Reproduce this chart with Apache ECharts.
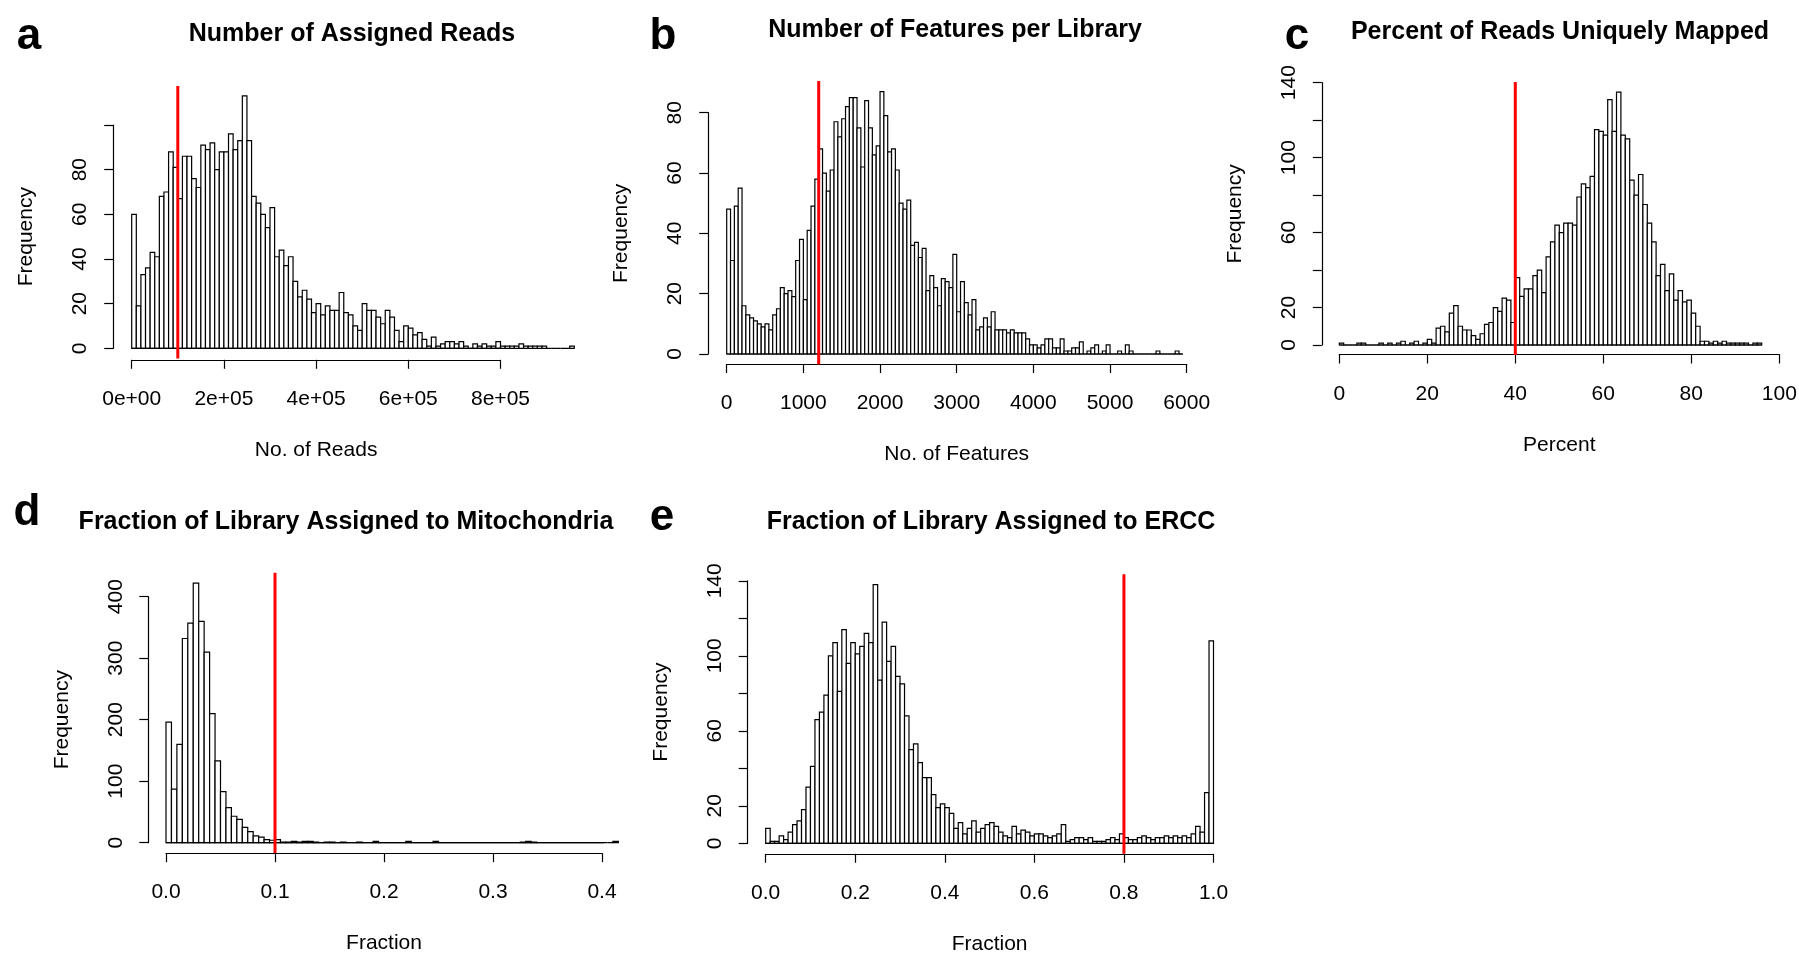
<!DOCTYPE html>
<html><head><meta charset="utf-8">
<script src="https://cdn.jsdelivr.net/npm/echarts@6/dist/echarts.min.js"></script>
<style>html,body{margin:0;padding:0;background:#fff}#chart{width:1799px;height:957px}</style>
</head><body><div id="chart"></div>
<script>
const FONT = '"Liberation Sans", Arial, Helvetica, sans-serif';

// ---------- DATA ----------
// a: Number of Assigned Reads
const aTitle = 'Number of Assigned Reads';
const aXName = 'No. of Reads';
const aBinStart = 0, aBinWidth = 10000;
const aCounts = [60,19,33,36,43,41,68,70,88,81, 67,86,86,76,72,91,89,92,80,88,
  88,96,89,93,113,93,68,65,60,54, 63,41,44,37,41,30,23,26,22,16,
  20,15,19,17,17,25,16,15,10,8, 20,17,17,14,11,17,14,8,3,10,
  9,6,7,4,1,5,1,2,3,3, 2,3,1,0,2,1,2,1,1,3, 1,1,1,1,2,1,1,1,1,1, 0,0,0,0,0,1];
const aCutoff = 100000;
const aXTicks = ['0e+00','2e+05','4e+05','6e+05','8e+05'];
const aYTicks = ['0','20','40','60','80',''];

// b: Number of Features per Library
const bTitle = 'Number of Features per Library';
const bXName = 'No. of Features';
const bBinStart = 0, bBinWidth = 50;
const bCounts = [48,31,49,55,16,13,12,11,10,9, 10,8,13,15,22,20,21,19,31,38,
  18,41,49,58,68,60,54,61,77,72, 78,82,85,85,75,62,84,75,66,69,
  87,79,67,68,61,50,48,51,36,37, 32,35,21,26,22,16,25,24,22,33,
  14,24,17,13,18,8,9,12,9,14, 8,8,8,7,8,7,7,7,5,3,
  3,2,3,5,5,2,2,5,1,1, 2,2,4,0,1,2,3,0,1,3,
  0,0,1,0,3,1,0,0,0,0, 0,0,1,0,0,0,0,1,0];
const bCutoff = 1200;
const bXTicks = ['0','1000','2000','3000','4000','5000','6000'];
const bYTicks = ['0','20','40','60','80'];

// c: Percent of Reads Uniquely Mapped
const cTitle = 'Percent of Reads Uniquely Mapped';
const cXName = 'Percent';
const cBinStart = 0, cBinWidth = 1;
const cCounts = [1,0,0,0,1,1,0,0,0,1, 0,1,0,1,2,0,1,2,0,1,
  3,1,9,10,7,17,21,10,8,8, 5,3,6,11,12,20,18,25,24,12,
  36,26,30,30,37,40,28,47,55,64, 60,65,65,64,79,86,84,90,115,114,
  112,131,114,135,112,110,88,80,91,75, 65,55,37,43,29,38,24,29,23,24,
  17,10,2,2,1,2,1,2,1,1, 1,1,1,0,1,1];
const cCutoff = 40;
const cXTicks = ['0','20','40','60','80','100'];
const cYTicks = ['0','20','','60','','100','','140'];

// d: Fraction of Library Assigned to Mitochondria
const dTitle = 'Fraction of Library Assigned to Mitochondria';
const dXName = 'Fraction';
const dBinStart = 0, dBinWidth = 0.005;
const dCounts = [196,87,160,332,357,422,360,310,210,133, 83,57,43,38,25,18,11,9,5,4,
  5,1,1,2,1,2,2,1,0,1, 1,0,1,0,0,1,0,0,2,0,
  0,0,0,0,2,0,0,0,0,2, 0,0,0,0,0,0,0,0,0,0,
  0,0,0,0,0,1,2,1,0,0, 0,0,0,0,0,0,0,0,0,0, 0,0,2];
const dCutoff = 0.1;
const dXTicks = ['0.0','0.1','0.2','0.3','0.4'];
const dYTicks = ['0','100','200','300','400'];

// e: Fraction of Library Assigned to ERCC
const eTitle = 'Fraction of Library Assigned to ERCC';
const eXName = 'Fraction';
const eBinStart = 0, eBinWidth = 0.01;
const eCounts = [8,1,1,4,2,6,10,12,18,30, 41,66,70,79,100,107,81,114,96,107,
  101,105,112,107,138,87,118,97,105,89, 85,68,50,53,43,35,35,26,19,21,
  19,16,8,11,5,8,12,6,8,10, 11,9,6,4,3,9,5,7,6,4,
  5,5,4,3,4,5,10,1,2,3, 3,2,3,1,1,1,2,3,2,5,
  3,2,2,3,4,3,2,3,3,4, 3,4,3,4,3,5,9,6,27,108];
const eCutoff = 0.8;
const eXTicks = ['0.0','0.2','0.4','0.6','0.8','1.0'];
const eYTicks = ['0','20','','60','','100','','140'];

const yName = 'Frequency';
const panelLetters = ['a','b','c','d','e'];

// ---------- LAYOUT ----------
const panels = [
  {letter:panelLetters[0], title:aTitle, xName:aXName, start:aBinStart, w:aBinWidth, counts:aCounts, cut:aCutoff, xt:aXTicks, yt:aYTicks,
   grid:{left:131.7, top:125, width:368.8, height:223.3}, xmin:0, xmax:800000, xint:200000, ymax:100, yint:20, xoff:11.5, yoff:18.5,
   titlePos:[352,34], letterPos:[29,37]},
  {letter:panelLetters[1], title:bTitle, xName:bXName, start:bBinStart, w:bBinWidth, counts:bCounts, cut:bCutoff, xt:bXTicks, yt:bYTicks,
   grid:{left:726.7, top:112.7, width:460, height:241.3}, xmin:0, xmax:6000, xint:1000, ymax:80, yint:20, xoff:10, yoff:18.5,
   titlePos:[955,30], letterPos:[663,37]},
  {letter:panelLetters[2], title:cTitle, xName:cXName, start:cBinStart, w:cBinWidth, counts:cCounts, cut:cCutoff, xt:cXTicks, yt:cYTicks,
   grid:{left:1339.3, top:82.7, width:440, height:262.3}, xmin:0, xmax:100, xint:20, ymax:140, yint:20, xoff:9.5, yoff:17.5,
   titlePos:[1560,32], letterPos:[1297,37]},
  {letter:panelLetters[3], title:dTitle, xName:dXName, start:dBinStart, w:dBinWidth, counts:dCounts, cut:dCutoff, xt:dXTicks, yt:dYTicks,
   grid:{left:166, top:596.7, width:436, height:246}, xmin:0, xmax:0.4, xint:0.1, ymax:400, yint:100, xoff:10.5, yoff:17.7,
   titlePos:[346,522], letterPos:[27,513]},
  {letter:panelLetters[4], title:eTitle, xName:eXName, start:eBinStart, w:eBinWidth, counts:eCounts, cut:eCutoff, xt:eXTicks, yt:eYTicks,
   grid:{left:765.7, top:580.8, width:447.8, height:262.5}, xmin:0, xmax:1, xint:0.2, ymax:140, yint:20, xoff:10.5, yoff:18,
   titlePos:[991,522], letterPos:[662,518]}
];

const LW = 1.2;
const grids = [], xAxes = [], yAxes = [], series = [], graphics = [];
panels.forEach((p, k) => {
  grids.push(Object.assign({containLabel:false, outerBoundsMode:'none'}, p.grid));
  xAxes.push({
    type:'value', gridIndex:k, min:p.xmin, max:p.xmax, interval:p.xint, offset:p.xoff, position:'bottom',
    axisLine:{show:true, onZero:false, lineStyle:{color:'#000', width:LW}},
    axisTick:{show:true, length:9, lineStyle:{color:'#000', width:LW}},
    splitLine:{show:false},
    axisLabel:{show:true, interval:0, hideOverlap:false, margin:29, color:'#000', fontSize:21, fontFamily:FONT,
      showMinLabel:true, showMaxLabel:true,
      formatter:(v)=>p.xt[Math.round((v - p.xmin)/p.xint)] ?? ''},
    name:p.xName, nameLocation:'middle', nameGap:80,
    nameTextStyle:{color:'#000', fontSize:21, fontFamily:FONT}
  });
  yAxes.push({
    type:'value', gridIndex:k, min:0, max:p.ymax, interval:p.yint, offset:p.yoff, position:'left',
    axisLine:{show:true, onZero:false, lineStyle:{color:'#000', width:LW}},
    axisTick:{show:true, length:9, lineStyle:{color:'#000', width:LW}},
    splitLine:{show:false},
    axisLabel:{show:true, interval:0, hideOverlap:false, rotate:90, margin:22, color:'#000', fontSize:21, fontFamily:FONT,
      showMinLabel:true, showMaxLabel:true,
      formatter:(v)=>p.yt[Math.round(v/p.yint)] ?? ''},
    name:yName, nameLocation:'middle', nameGap:76,
    nameTextStyle:{color:'#000', fontSize:21, fontFamily:FONT}
  });
  const data = p.counts.map((c, i) => [p.start + i*p.w, p.start + (i+1)*p.w, c]);
  const cmax = Math.max.apply(null, p.counts);
  const xEnd = p.start + p.counts.length*p.w;
  series.push({
    type:'custom', xAxisIndex:k, yAxisIndex:k, clip:false, silent:true, data:data,
    encode:{x:[0,1], y:2},
    renderItem:(params, api) => {
      const a = api.coord([api.value(0), api.value(2)]);
      const b = api.coord([api.value(1), 0]);
      return {type:'rect', shape:{x:a[0], y:a[1], width:b[0]-a[0], height:b[1]-a[1]},
        style:{fill:'#fff', stroke:'#000', lineWidth:LW}};
    }
  });
  series.push({
    type:'line', xAxisIndex:k, yAxisIndex:k, clip:false, silent:true, symbol:'none',
    data:[[p.start,0],[xEnd,0]], lineStyle:{color:'#000', width:LW}, z:3
  });
  series.push({
    type:'line', xAxisIndex:k, yAxisIndex:k, clip:false, silent:true, symbol:'none',
    data:[[p.cut,-0.04*cmax],[p.cut,1.04*cmax]], lineStyle:{color:'#ff0000', width:3}, z:5
  });
  graphics.push({type:'text', x:p.titlePos[0], y:p.titlePos[1],
    style:{text:p.title, fontSize:25, fontWeight:'bold', fontFamily:FONT, fill:'#000', align:'center', verticalAlign:'middle'}});
  graphics.push({type:'text', x:p.letterPos[0], y:p.letterPos[1],
    style:{text:p.letter, fontSize:44, fontWeight:'bold', fontFamily:FONT, fill:'#000', align:'center', verticalAlign:'middle'}});
});

const chart = echarts.init(document.getElementById('chart'), null, {renderer:'canvas', width:1799, height:957});
chart.setOption({
  backgroundColor:'#fff', animation:false,
  grid:grids, xAxis:xAxes, yAxis:yAxes, series:series, graphic:graphics
});
</script></body></html>
